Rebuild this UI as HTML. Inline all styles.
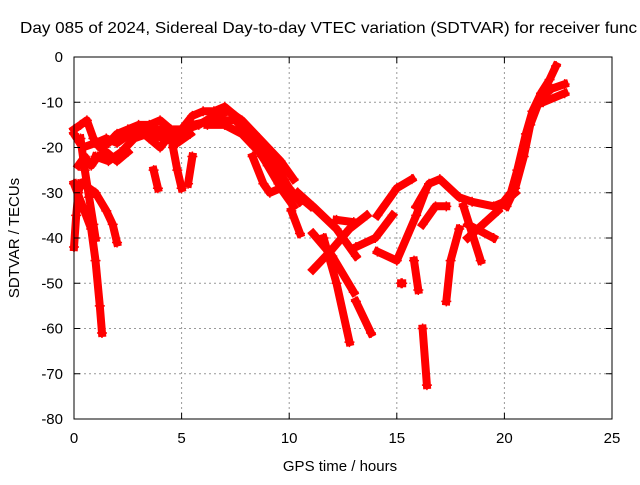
<!DOCTYPE html>
<html><head><meta charset="utf-8"><style>
body{margin:0;background:#fff;width:640px;height:480px;overflow:hidden}
text{font-family:"Liberation Sans",sans-serif;font-size:15px;fill:#000}
</style></head><body>
<svg id="chart" width="640" height="480" viewBox="0 0 640 480">
<text x="20" y="33" textLength="617" lengthAdjust="spacingAndGlyphs" style="font-size:16px">Day 085 of 2024, Sidereal Day-to-day VTEC variation (SDTVAR) for receiver func</text>
<g id="grid"></g>
<g id="series"></g>
<rect x="74" y="57" width="538" height="362" fill="none" stroke="#000" stroke-width="1"/>
<g id="ticks"></g>
<text x="340" y="471" text-anchor="middle">GPS time / hours</text>
<text transform="translate(19,238) rotate(-90)" text-anchor="middle">SDTVAR / TECUs</text>
</svg>
<script>
const xTicks=[0,5,10,15,20,25];
const yTicks=[0,-10,-20,-30,-40,-50,-60,-70,-80];
const tracks=[
[[0,-16],[0.3,-15],[0.6,-14],[0.9,-18],[1.2,-20],[1.6,-19],[2,-17],[2.5,-16],[3,-15],[3.5,-15],[4,-14],[4.5,-16],[5,-16],[5.5,-13],[6,-12],[6.5,-12],[7,-11],[7.5,-13],[8,-16],[8.5,-19],[9,-22],[9.5,-25],[10,-29],[10.5,-32]],
[[0,-17],[0.4,-20],[1,-19],[1.5,-18],[2,-19],[2.6,-17],[3.2,-16],[4,-16],[4.6,-18],[5.2,-16],[5.8,-15],[6.5,-13],[7.2,-12],[7.8,-14],[8.4,-17],[9,-20],[9.6,-23],[10.2,-27]],
[[1,-22],[1.6,-23],[2.2,-21],[2.8,-18],[3.4,-17],[4.2,-18],[4.8,-19],[5.4,-17]],
[[5.5,-15],[6.5,-14],[7.5,-14],[8.3,-18],[9,-24],[9.5,-28],[10,-30],[10.5,-31],[11,-33]],
[[6.2,-15],[7,-15],[7.8,-17],[8.6,-21],[9.3,-26],[10,-31]],
[[8.3,-22],[8.8,-28],[9.1,-30],[9.6,-29],[10.2,-33]],
[[10.1,-34],[10.5,-39]],
[[3.5,-18],[4,-20],[4.5,-17]],
[[3.7,-25],[3.9,-29]],
[[4.6,-20],[4.8,-25],[5,-29]],
[[5.5,-22],[5.3,-28]],
[[0,-28],[0.4,-33],[0.8,-38],[1,-45],[1.2,-55],[1.3,-61]],
[[0,-42],[0.1,-35],[0.2,-30],[0.3,-28]],
[[0.4,-28],[1,-30],[1.5,-34],[1.8,-37],[2,-41]],
[[0.2,-24],[0.5,-22],[0.8,-24],[1.1,-22],[1.5,-21],[2,-23],[2.5,-21]],
[[0.3,-18],[0.5,-25],[0.7,-31],[0.9,-37],[1,-40]],
[[11.1,-39],[12,-44],[13,-52]],
[[11.1,-47],[11.9,-43],[12.8,-38],[13.6,-35]],
[[11.6,-40],[12.2,-50],[12.8,-63]],
[[13.1,-54],[13.8,-61]],
[[10.4,-30],[11.1,-33],[12.2,-38],[13.1,-44]],
[[12.2,-36],[13,-36.5]],
[[13.1,-42],[14,-40],[14.8,-35]],
[[14.1,-35],[15,-29],[15.7,-27]],
[[14.1,-43],[15,-45],[15.9,-35],[16.3,-30]],
[[15.8,-45],[16,-51.5]],
[[16.2,-60],[16.4,-72.5]],
[[15.2,-50],[15.25,-50]],
[[17.3,-54],[17.5,-45],[17.9,-38]],
[[15.9,-33],[16.5,-28],[17,-27],[17.9,-31],[18.5,-32],[19.5,-33],[20,-32],[20.5,-30]],
[[16.2,-37],[16.8,-33],[17.3,-33]],
[[18.1,-33],[18.5,-39],[18.9,-45]],
[[18.3,-40],[19,-37],[19.7,-34]],
[[18.3,-37],[19.5,-40]],
[[19.8,-33],[20.3,-30],[20.6,-25],[21,-17],[21.3,-12],[21.7,-8],[22.1,-5],[22.4,-2]],
[[20.1,-33],[20.5,-29],[20.9,-22],[21.2,-15],[21.6,-10]],
[[21.7,-9],[22.2,-7],[22.8,-6]],
[[21.8,-10],[22.8,-8]]
];
const NS='http://www.w3.org/2000/svg';
const X0=74,X1=612,Y0=57,Y1=419;
function sx(h){return X0+(h-0)/(25-0)*(X1-X0);}
function sy(v){return Y0+(0-v)/(0-(-80))*(Y1-Y0);}
const grid=document.getElementById('grid'),ticks=document.getElementById('ticks'),ser=document.getElementById('series');
function mk(tag,attrs,parent){const e=document.createElementNS(NS,tag);for(const k in attrs)e.setAttribute(k,attrs[k]);parent.appendChild(e);return e;}
xTicks.forEach(t=>{const x=sx(t);
 if(t>0&&t<25){const g=mk('line',{x1:x,x2:x,y1:Y0,y2:Y1,stroke:'#999','stroke-dasharray':'2,3'},grid);
 
 }
 mk('line',{x1:x,x2:x,y1:Y1,y2:Y1-6,stroke:'#000'},ticks);mk('line',{x1:x,x2:x,y1:Y0,y2:Y0+6,stroke:'#000'},ticks);
 const l=mk('text',{x:x,y:443,'text-anchor':'middle'},ticks);l.textContent=t;
 
 });
yTicks.forEach(t=>{const y=sy(t);
 if(t<0&&t>-80){const g=mk('line',{x1:X0,x2:X1,y1:y,y2:y,stroke:'#999','stroke-dasharray':'2,3'},grid);
 
 }
 mk('line',{x1:X0,x2:X0+6,y1:y,y2:y,stroke:'#000'},ticks);mk('line',{x1:X1,x2:X1-6,y1:y,y2:y,stroke:'#000'},ticks);
 const l=mk('text',{x:63,y:y+5,'text-anchor':'end'},ticks);l.textContent=t;
 
 });
tracks.forEach(tr=>{
 const pts=tr.map(p=>sx(p[0]).toFixed(1)+','+sy(p[1]).toFixed(1)).join(' ');
 const pl=mk('polyline',{points:pts,fill:'none',stroke:'#f00','stroke-width':8,'stroke-linejoin':'round','stroke-linecap':'square'},ser);
 
 
 tr.forEach(p=>{const x=sx(p[0]),y=sy(p[1]);
  const m=mk('path',{d:`M${x-5},${y}h10M${x},${y-5}v10`,stroke:'#f00','stroke-width':1.5},ser);
  
  });
});
</script>
</body></html>
